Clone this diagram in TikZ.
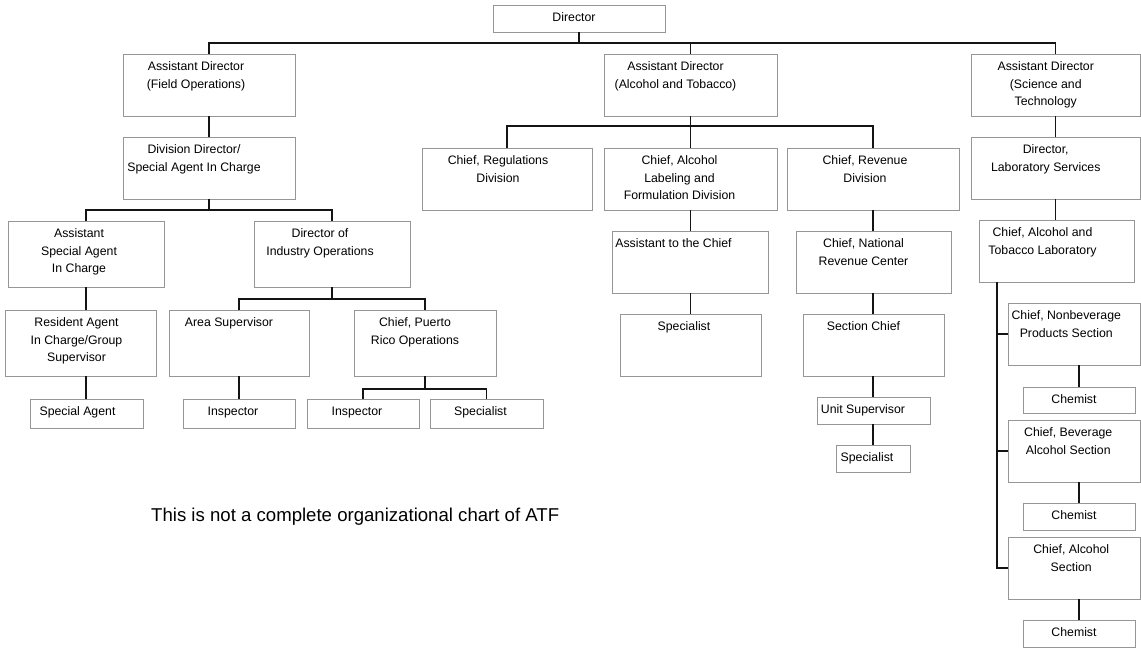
\documentclass[tikz,border=0pt]{standalone}
\usepackage{fontspec}
\setmainfont{Liberation Sans}
\definecolor{boxgray}{RGB}{150,150,150}
\definecolor{linecol}{RGB}{20,20,20}
\newcommand\tstrut{\rule{0pt}{10pt}}
\tikzset{
  obx/.style={draw=boxgray, line width=0.8pt, fill=white, inner sep=0pt, outer sep=0pt, rectangle},
  otxt/.style={anchor=north, inner sep=0pt, outer sep=0pt, align=center, font=\fontsize{12.3}{17.5}\selectfont},
  conn/.style={draw=linecol, line width=1.2pt},
}
\newcommand\obox[7]{%
  \node[obx, minimum width={#4-#2}, minimum height={#5-#3}] (#1) at ({(#2+#4)/2},{(#3+#5)/2}) {};
  \node[otxt] (#1t) at ({(#2+#4)/2+#6},{#3+6.8}) {\tstrut #7};}
\begin{document}
\begin{tikzpicture}[x=1pt,y=-1pt]
\useasboundingbox (0,0) rectangle (1141,649);
% boxes
\obox{dir}{493}{5}{665}{32}{-5}{Director}
\obox{adfo}{123}{54}{295}{116}{-13}{Assistant Director\\(Field Operations)}
\obox{adat}{604}{54}{777}{116}{-15}{Assistant Director\\(Alcohol and Tobacco)}
\obox{adst}{971}{54}{1140.5}{116}{-10}{Assistant Director\\(Science and\\Technology}
\obox{div}{123}{137}{295}{199}{-15}{Division Director/\\Special Agent In Charge}
\obox{asac}{8}{221}{164}{287}{-7}{Assistant\\Special Agent\\In Charge}
\obox{dio}{254}{221}{410}{287}{-12}{Director of\\Industry Operations}
\obox{ra}{5}{310}{156}{376}{-4}{Resident Agent\\In Charge/Group\\Supervisor}
\obox{area}{169}{310}{309}{376}{-10}{Area Supervisor}
\obox{pr}{354}{310}{496}{376}{-10}{Chief, Puerto\\Rico Operations}
\obox{sa}{30}{399}{143}{428}{-9}{Special Agent}
\obox{inspa}{183}{399}{295}{428}{-6}{Inspector}
\obox{inspb}{307}{399}{419}{428}{-6}{Inspector}
\obox{speca}{430}{399}{543}{428}{-6}{Specialist}
\obox{reg}{422}{148}{592}{210}{-9}{Chief, Regulations\\Division}
\obox{alab}{604}{148}{777}{210}{-11}{Chief, Alcohol\\Labeling and\\Formulation Division}
\obox{rev}{787}{148}{959}{210}{-8}{Chief, Revenue\\Division}
\obox{atc}{612}{231}{768}{293}{-16.5}{Assistant to the Chief}
\obox{specb}{620}{314}{761}{376}{-6.5}{Specialist}
\obox{nrc}{796}{231}{951}{293}{-10}{Chief, National\\Revenue Center}
\obox{sec}{803}{314}{944}{376}{-10}{Section Chief}
\obox{unit}{817}{397}{930}{424}{-10.5}{Unit Supervisor}
\obox{specc}{836}{445}{910}{472}{-6}{Specialist}
\obox{labs}{971}{137}{1140.5}{199}{-10}{Director,\\Laboratory Services}
\obox{atl}{979}{220}{1134}{282}{-14}{Chief, Alcohol and\\Tobacco Laboratory}
\obox{nonbev}{1008}{303}{1140.5}{365}{-8}{Chief, Nonbeverage\\Products Section}
\obox{chema}{1023}{387}{1135}{413}{-5}{Chemist}
\obox{bev}{1008}{420}{1140.5}{482}{-6}{Chief, Beverage\\Alcohol Section}
\obox{chemb}{1023}{503}{1135}{530}{-5}{Chemist}
\obox{alc}{1008}{537}{1140.5}{599}{-3}{Chief, Alcohol\\Section}
\obox{chemc}{1023}{620}{1135}{647}{-5}{Chemist}
% footnote
\node[anchor=base west, inner sep=0pt, font=\fontsize{18.6}{22}\selectfont] (note) at (151,521) {This is not a complete organizational chart of ATF};
% bus levels
\coordinate (ya) at (0,43);
\coordinate (yb) at (0,210);
\coordinate (yc) at (0,299);
\coordinate (yd) at (0,389);
\coordinate (ye) at (0,126);
\coordinate (sx) at (997,0);
% connectors
\draw[conn] (dir.south) -- (dir.south |- ya);
\draw[conn] (adfo.north) |- (adst.north |- ya) -- (adst.north);
\draw[conn] (adat.north) -- (adat.north |- ya);
\draw[conn] (adfo.south) -- (div.north);
\draw[conn] (div.south) -- (div.south |- yb);
\draw[conn] (asac.north) |- (dio.north |- yb) -- (dio.north);
\draw[conn] (asac.south) -- (asac.south |- ra.north);
\draw[conn] (asac.south |- ra.south) -- (asac.south |- sa.north);
\draw[conn] (dio.south) -- (dio.south |- yc);
\draw[conn] (area.north) |- (pr.north |- yc) -- (pr.north);
\draw[conn] (area.south) -- (area.south |- inspa.north);
\draw[conn] (pr.south) -- (pr.south |- yd);
\draw[conn] (inspb.north) |- (speca.north |- yd) -- (speca.north);
\draw[conn] (adat.south) -- (adat.south |- alab.north);
\draw[conn] (reg.north) |- (rev.north |- ye) -- (rev.north);
\draw[conn] (alab.south) -- (alab.south |- atc.north);
\draw[conn] (alab.south |- atc.south) -- (alab.south |- specb.north);
\draw[conn] (rev.south) -- (rev.south |- nrc.north);
\draw[conn] (rev.south |- nrc.south) -- (rev.south |- sec.north);
\draw[conn] (rev.south |- sec.south) -- (rev.south |- unit.north);
\draw[conn] (rev.south |- unit.south) -- (rev.south |- specc.north);
\draw[conn] (adst.south) -- (adst.south |- labs.north);
\draw[conn] (adst.south |- labs.south) -- (adst.south |- atl.north);
\draw[conn] (atl.south -| sx) |- (alc.west);
\draw[conn] (sx |- nonbev.west) -- (nonbev.west);
\draw[conn] (sx |- bev.west) -- (bev.west);
\draw[conn] (chema.north |- nonbev.south) -- (chema.north);
\draw[conn] (chemb.north |- bev.south) -- (chemb.north);
\draw[conn] (chemc.north |- alc.south) -- (chemc.north);
\end{tikzpicture}
\end{document}
